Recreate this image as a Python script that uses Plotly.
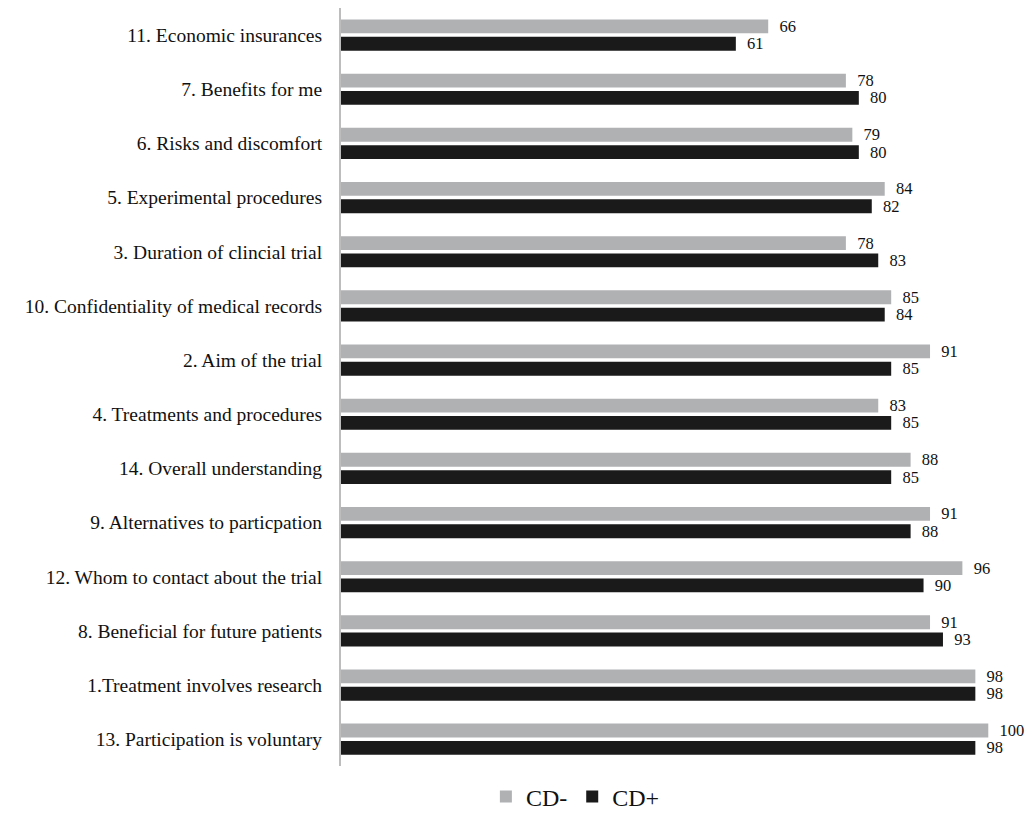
import plotly.graph_objects as go

categories = [
    "11. Economic insurances",
    "7. Benefits for me",
    "6. Risks and discomfort",
    "5. Experimental procedures",
    "3. Duration of clincial trial",
    "10. Confidentiality of medical records",
    "2. Aim of the trial",
    "4. Treatments and procedures",
    "14. Overall understanding",
    "9. Alternatives to particpation",
    "12. Whom to contact about the trial",
    "8. Beneficial for future patients",
    "1.Treatment involves research",
    "13. Participation is voluntary",
]
cd_minus = [66, 78, 79, 84, 78, 85, 91, 83, 88, 91, 96, 91, 98, 100]
cd_plus = [61, 80, 80, 82, 83, 84, 85, 85, 85, 88, 90, 93, 98, 98]

serif = "Liberation Serif"
label_tpl = "\u00a0\u00a0%{x}"

fig = go.Figure()
fig.add_trace(go.Bar(
    y=categories, x=cd_minus, orientation="h", name="CD-",
    marker=dict(color="#b0b1b3", line=dict(width=0)),
    texttemplate=label_tpl, textposition="outside", cliponaxis=False,
    constraintext="none",
    textfont=dict(family=serif, size=16.5, color="#111111"),
))
fig.add_trace(go.Bar(
    y=categories, x=cd_plus, orientation="h", name="CD+",
    marker=dict(color="#1a1a1a", line=dict(width=0)),
    texttemplate=label_tpl, textposition="outside", cliponaxis=False,
    constraintext="none",
    textfont=dict(family=serif, size=16.5, color="#111111"),
))

fig.update_layout(
    width=1033, height=830,
    barmode="group", bargap=0.36, bargroupgap=0.2,
    plot_bgcolor="white", paper_bgcolor="white",
    margin=dict(l=341, r=13, t=8, b=55),
    font=dict(family=serif, size=19, color="#111111"),
    legend=dict(
        orientation="h", xref="container", x=0.557, xanchor="center",
        yref="container", y=0.04, yanchor="middle",
        font=dict(family=serif, size=24, color="#111111"),
        traceorder="normal",
    ),
    xaxis=dict(range=[0, 104.9], showgrid=False, showticklabels=False,
               zeroline=False, showline=False, ticks=""),
    yaxis=dict(autorange="reversed", showgrid=False, showline=True,
               linecolor="#bdbdbd", linewidth=2, ticks="",
               ticklabelstandoff=13,
               tickfont=dict(family=serif, size=19.5, color="#111111")),
)

fig.write_html("out.html")
